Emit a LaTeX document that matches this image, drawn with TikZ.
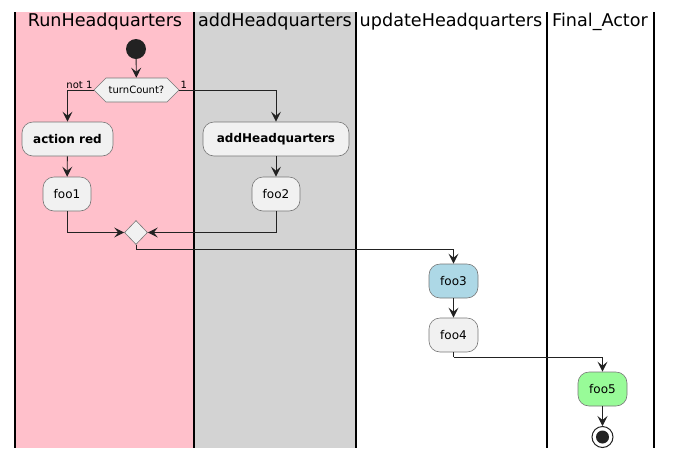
\documentclass[tikz,border=0pt]{standalone}
\usepackage{fontspec}
\setmainfont{DejaVu Sans}
\usetikzlibrary{arrows.meta,shapes.geometric,shapes.symbols}
\definecolor{boxfill}{HTML}{F1F1F1}
\definecolor{boxline}{HTML}{777777}
\definecolor{lanepink}{HTML}{FFC0CB}
\definecolor{lanegray}{HTML}{D3D3D3}
\definecolor{blue3}{HTML}{ADD8E6}
\definecolor{green5}{HTML}{98FB98}
\definecolor{dark}{HTML}{222222}
\begin{document}
\begin{tikzpicture}[x=1pt,y=-1pt,
  act/.style={draw=boxline,line width=0.6pt,fill=boxfill,rounded corners=11pt,minimum height=34pt,inner sep=0pt,font=\fontsize{12}{14}\selectfont},
  arr/.style={draw=dark,line width=0.9pt,-{Stealth[length=10pt,width=10pt,inset=4pt]}},
  line/.style={draw=dark,line width=0.9pt},
  lane/.style={draw=black,line width=1.4pt},
  title/.style={font=\fontsize{17.6}{20}\selectfont,anchor=center},
  small/.style={font=\fontsize{10}{12}\selectfont}
]
\useasboundingbox (0,0) rectangle (673,459);
% lanes
\fill[lanepink] (15,12) rectangle (194,448);
\fill[lanegray] (194,12) rectangle (356,448);
\foreach \xx in {15,194,356,547,654} \draw[lane] (\xx,12) -- (\xx,448);
\node[title] (t1) at (105,22) {RunHeadquarters};
\node[title] (t2) at (275,22) {addHeadquarters};
\node[title] (t3) at (451,22) {updateHeadquarters};
\node[title] (t4) at (600,22) {Final\_Actor};
% nodes
\node[circle,fill=dark,minimum size=20pt,inner sep=0pt] (start) at (136,49) {};
\node[signal,signal to=west and east,signal pointer angle=90,draw=boxline,line width=0.6pt,fill=boxfill,minimum width=85pt,minimum height=24pt,inner sep=1pt,small] (dec) at (136.5,90) {turnCount?};
\node[act,minimum width=91pt] (act1) at (67.5,139) {\textbf{action red}};
\node[act,minimum width=146pt] (act2) at (276,139) {\textbf{addHeadquarters}};
\node[act,minimum width=48pt] (foo1) at (67,194) {foo1};
\node[act,minimum width=48pt] (foo2) at (276,194) {foo2};
\node[diamond,draw=boxline,line width=0.6pt,fill=boxfill,minimum width=23pt,minimum height=24pt,inner sep=0pt] (merge) at (136,232.5) {};
\node[act,minimum width=49pt,fill=blue3] (foo3) at (453.5,281) {foo3};
\node[act,minimum width=49pt] (foo4) at (453.5,335) {foo4};
\node[act,minimum width=49pt,fill=green5] (foo5) at (602.5,389) {foo5};
\node[circle,draw=dark,line width=1pt,fill=white,minimum size=21pt,inner sep=0pt] (end) at (602.5,437) {};
\fill[dark] (end.center) circle (6.5pt);
% connectors
\draw[arr] (start) -- (dec);
\draw[arr] (dec.west) -| (act1.north);
\draw[arr] (dec.east) -| (act2.north);
\node[small,anchor=south east,inner sep=1pt] (lab1) at (dec.west) {not 1};
\node[small,anchor=south west,inner sep=1pt] (lab2) at (dec.east) {1};
\draw[arr] (act1) -- (foo1);
\draw[arr] (act2) -- (foo2);
\draw[arr] (foo1.south) |- (merge.west);
\draw[arr] (foo2.south) |- (merge.east);
\coordinate (m1) at (136,249);
\draw[line] (merge.south) -- (m1);
\draw[arr] (m1) -| (foo3.north);
\draw[arr] (foo3) -- (foo4);
\coordinate (m2) at (453.5,357);
\draw[line] (foo4.south) -- (m2);
\draw[arr] (m2) -| (foo5.north);
\draw[arr] (foo5) -- (end);
\end{tikzpicture}
\end{document}
